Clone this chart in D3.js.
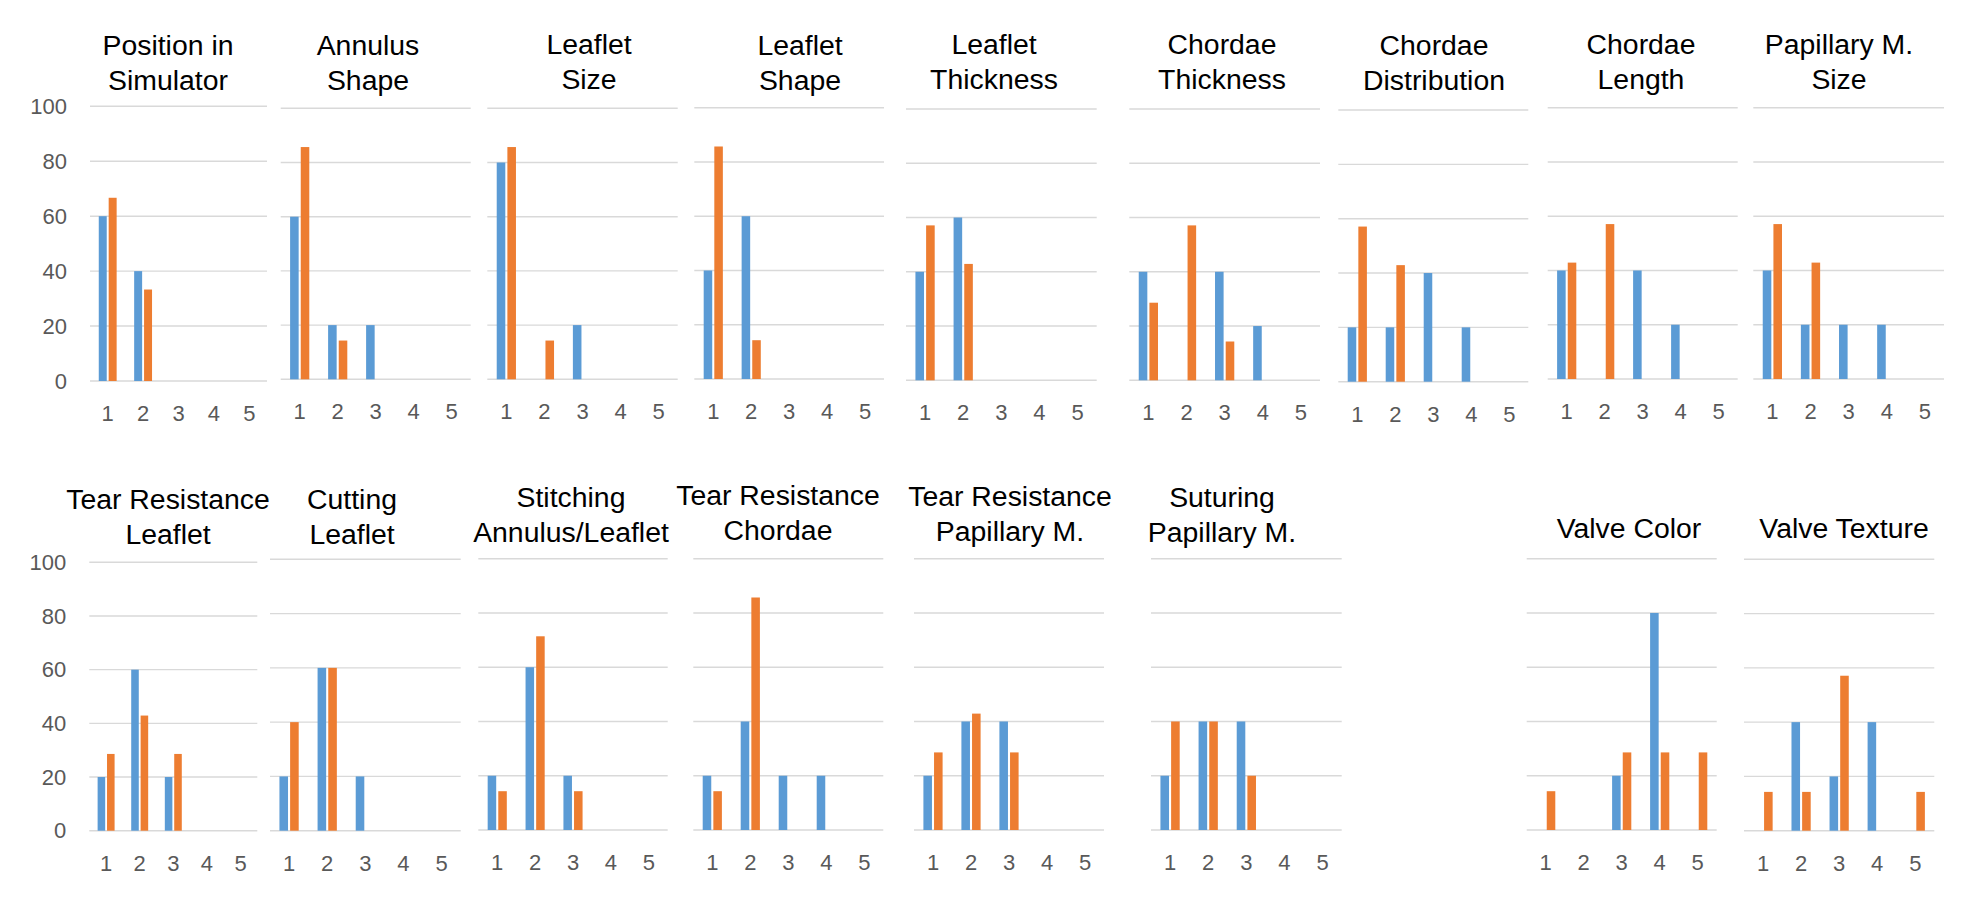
<!DOCTYPE html>
<html>
<head>
<meta charset="utf-8">
<script src="https://cdn.jsdelivr.net/npm/d3@7"></script>
<style>
  html, body { margin: 0; padding: 0; background: #fff; }
  svg { display: block; }
</style>
</head>
<body>
<svg id="chart" width="1985" height="922"></svg>
<script>
// ---------- DATA ----------
const categories = [1, 2, 3, 4, 5];
const yTicks = [0, 20, 40, 60, 80, 100];

const titles = [
  "Position in\nSimulator",
  "Annulus\nShape",
  "Leaflet\nSize",
  "Leaflet\nShape",
  "Leaflet\nThickness",
  "Chordae\nThickness",
  "Chordae\nDistribution",
  "Chordae\nLength",
  "Papillary M.\nSize",
  "Tear Resistance\nLeaflet",
  "Cutting\nLeaflet",
  "Stitching\nAnnulus/Leaflet",
  "Tear Resistance\nChordae",
  "Tear Resistance\nPapillary M.",
  "Suturing\nPapillary M.",
  "Valve Color",
  "Valve Texture"
];

const blueValues = [
  [60, 40, 0, 0, 0],
  [60, 20, 20, 0, 0],
  [80, 0, 20, 0, 0],
  [40, 60, 0, 0, 0],
  [40, 60, 0, 0, 0],
  [40, 0, 40, 20, 0],
  [20, 20, 40, 20, 0],
  [40, 0, 40, 20, 0],
  [40, 20, 20, 20, 0],
  [20, 60, 20, 0, 0],
  [20, 60, 20, 0, 0],
  [20, 60, 20, 0, 0],
  [20, 40, 20, 20, 0],
  [20, 40, 40, 0, 0],
  [20, 40, 40, 0, 0],
  [0, 0, 20, 80, 0],
  [0, 40, 20, 40, 0]
];

const orangeValues = [
  [66.7, 33.3, 0, 0, 0],
  [85.7, 14.3, 0, 0, 0],
  [85.7, 14.3, 0, 0, 0],
  [85.7, 14.3, 0, 0, 0],
  [57.1, 42.9, 0, 0, 0],
  [28.6, 57.1, 14.3, 0, 0],
  [57.1, 42.9, 0, 0, 0],
  [42.9, 57.1, 0, 0, 0],
  [57.1, 42.9, 0, 0, 0],
  [28.6, 42.9, 28.6, 0, 0],
  [40, 60, 0, 0, 0],
  [14.3, 71.4, 14.3, 0, 0],
  [14.3, 85.7, 0, 0, 0],
  [28.6, 42.9, 28.6, 0, 0],
  [40, 40, 20, 0, 0],
  [14.3, 0, 28.6, 28.6, 28.6],
  [14.3, 14.3, 57.1, 0, 14.3]
];

const seriesKeys = ["blue", "orange"];

// ---------- LAYOUT (positions / styling only) ----------
// [x0, x1, yTop(100), yBottom(0), titleX, titleBaseline1, showYAxis]
const layout = [
  [90, 267, 106.3, 381, 168, 55, true],
  [280.7, 470.7, 108.3, 379.3, 368, 55, false],
  [487.3, 677.7, 108.3, 379.3, 589, 53.5, false],
  [694.3, 884, 107.7, 379, 800, 55, false],
  [906, 1096.7, 109, 380.3, 994, 53.5, false],
  [1129.3, 1320, 109, 380.3, 1222, 53.5, false],
  [1338.3, 1528.3, 110, 381.7, 1434, 55, false],
  [1547.7, 1737.7, 107.7, 379, 1641, 53.5, false],
  [1753.3, 1944, 107.7, 379, 1839, 53.5, false],
  [89.3, 257.3, 562.3, 830.7, 168, 509, true],
  [270, 460.7, 559.3, 830.7, 352, 509, false],
  [478.3, 667.7, 558.7, 830, 571, 506.5, false],
  [693.3, 883.3, 558.7, 830, 778, 504.5, false],
  [914, 1104, 558.7, 830, 1010, 506, false],
  [1151, 1341.7, 558.7, 830, 1222, 506.5, false],
  [1526.7, 1716.7, 558.7, 830, 1629, 538.3, false],
  [1744, 1934.3, 559.3, 830.7, 1844, 538.3, false]
];

const colors = { blue: "#5B9BD5", orange: "#ED7D31" };
const gridColor = "#D9D9D9";
const labelColor = "#595959";
const fontFamily = "'Liberation Sans', Arial, Helvetica, sans-serif";

const svg = d3.select("#chart");

titles.forEach((title, i) => {
  const [x0, x1, yTop, yBot, tx, tBase, showY] = layout[i];
  const g = svg.append("g");

  const x = d3.scaleBand().domain(categories).range([x0, x1]).paddingInner(0).paddingOuter(0);
  const xs = d3.scaleBand().domain(seriesKeys).range([0, x.bandwidth()])
    .paddingInner(0.196).paddingOuter(0.884);
  const y = d3.scaleLinear().domain([0, 100]).range([yBot, yTop]);

  // gridlines
  g.append("g").selectAll("line").data(yTicks).join("line")
    .attr("x1", x0).attr("x2", x1)
    .attr("y1", d => y(d)).attr("y2", d => y(d))
    .attr("stroke", gridColor).attr("stroke-width", 1.4);

  // bars
  const rows = categories.map((c, k) => ({ cat: c, blue: blueValues[i][k], orange: orangeValues[i][k] }));
  const grp = g.append("g").selectAll("g").data(rows).join("g")
    .attr("transform", d => `translate(${x(d.cat)},0)`);
  grp.selectAll("rect").data(d => seriesKeys.map(k => ({ key: k, v: d[k] })).filter(e => e.v > 0))
    .join("rect")
    .attr("x", e => xs(e.key))
    .attr("width", xs.bandwidth())
    .attr("y", e => y(e.v))
    .attr("height", e => y(0) - y(e.v))
    .attr("fill", e => colors[e.key]);

  // x axis labels
  const xAxis = d3.axisBottom(x).tickSize(0).tickPadding(0);
  const xg = g.append("g").attr("transform", `translate(0,${yBot + 40})`).call(xAxis);
  xg.select(".domain").remove();
  xg.selectAll("text")
    .attr("dy", 0).attr("y", 0)
    .attr("fill", labelColor)
    .style("font-family", fontFamily).style("font-size", "22px");

  // y axis labels
  if (showY) {
    const yAxis = d3.axisLeft(y).tickValues(yTicks).tickSize(0).tickPadding(0);
    const yg = g.append("g").attr("transform", `translate(${x0 - 23},0)`).call(yAxis);
    yg.select(".domain").remove();
    yg.selectAll("text")
      .attr("x", 0)
      .attr("fill", labelColor)
      .style("font-family", fontFamily).style("font-size", "22px");
  }

  // title
  const lines = title.split("\n");
  const t = g.append("text")
    .attr("text-anchor", "middle")
    .attr("fill", "#000")
    .style("font-family", fontFamily).style("font-size", "28.4px");
  lines.forEach((ln, j) => {
    t.append("tspan").attr("x", tx).attr("y", tBase + j * 35).text(ln);
  });
});
</script>
</body>
</html>
